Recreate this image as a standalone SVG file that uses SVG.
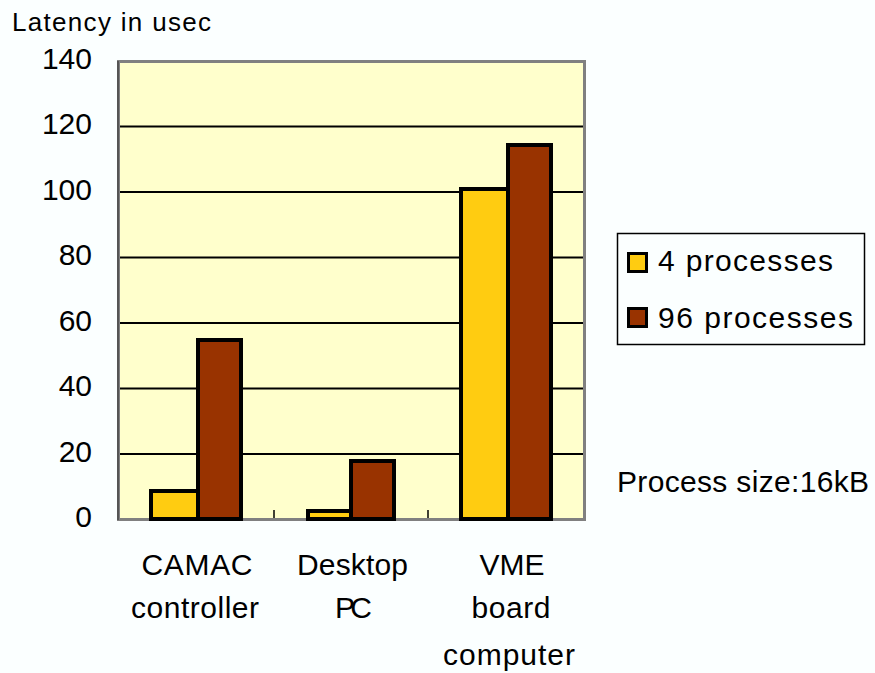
<svg xmlns="http://www.w3.org/2000/svg" width="875" height="673" viewBox="0 0 875 673">
<style>
text{font-family:"Liberation Sans",Arial,sans-serif;fill:#000;font-size:30px}
.yl{text-anchor:end}
.cl{text-anchor:middle}
.grid{stroke:#000;stroke-width:2}
.bar{stroke:#000;stroke-width:4}
.y4{fill:#FFCC11}
.y96{fill:#993300}
</style>
<rect x="0" y="0" width="875" height="673" fill="#FBFFFF"/>
<g id="plot">
<rect x="118.5" y="61.5" width="466" height="458" fill="#FFFFCC" stroke="#808080" stroke-width="3"/>
<g id="gridlines">
<line class="grid" x1="120" y1="126.5" x2="583" y2="126.5"/>
<line class="grid" x1="120" y1="192" x2="583" y2="192"/>
<line class="grid" x1="120" y1="257.5" x2="583" y2="257.5"/>
<line class="grid" x1="120" y1="323" x2="583" y2="323"/>
<line class="grid" x1="120" y1="388.5" x2="583" y2="388.5"/>
<line class="grid" x1="120" y1="454" x2="583" y2="454"/>
</g>
<line x1="118" y1="61" x2="118" y2="520" stroke="#555" stroke-width="2"/>
<g id="ticks" stroke="#000" stroke-width="1.5">
<line x1="274" y1="510" x2="274" y2="518"/>
<line x1="428" y1="510" x2="428" y2="518"/>
</g>
</g>
<g id="camac">
<rect class="bar y4" x="151" y="491" width="47" height="28"/>
<rect class="bar y96" x="198" y="340" width="43" height="179"/>
<text class="cl" x="197" y="575" textLength="111" lengthAdjust="spacing">CAMAC</text>
<text class="cl" x="195" y="618" textLength="128" lengthAdjust="spacing">controller</text>
</g>
<g id="desktop">
<rect class="bar y4" x="308" y="511" width="43" height="8"/>
<rect class="bar y96" x="351" y="461" width="43" height="58"/>
<text class="cl" x="352.5" y="575" textLength="111" lengthAdjust="spacing">Desktop</text>
<text class="cl" x="353.5" y="618" textLength="37" lengthAdjust="spacing">PC</text>
</g>
<g id="vme">
<rect class="bar y4" x="461" y="189" width="47" height="330"/>
<rect class="bar y96" x="508" y="145" width="43" height="374"/>
<text class="cl" x="512" y="575" textLength="65" lengthAdjust="spacing">VME</text>
<text class="cl" x="511" y="618" textLength="79" lengthAdjust="spacing">board</text>
<text class="cl" x="509" y="665" textLength="132" lengthAdjust="spacing">computer</text>
</g>
<g id="yaxis">
<text x="12" y="31" textLength="199" lengthAdjust="spacing" style="font-size:26px">Latency in usec</text>
<text class="yl" x="92" y="69">140</text>
<text class="yl" x="92" y="134">120</text>
<text class="yl" x="92" y="200">100</text>
<text class="yl" x="92" y="265">80</text>
<text class="yl" x="92" y="331">60</text>
<text class="yl" x="92" y="396">40</text>
<text class="yl" x="92" y="462">20</text>
<text class="yl" x="92" y="527">0</text>
</g>
<g id="legend">
<rect x="617.5" y="233.5" width="247" height="111" fill="#FBFFFF" stroke="#000" stroke-width="1.5"/>
<rect x="628.5" y="253.5" width="18" height="18" class="y4" stroke="#000" stroke-width="3"/>
<rect x="628.5" y="308.5" width="18" height="18" class="y96" stroke="#000" stroke-width="3"/>
<text x="658" y="271" textLength="175" lengthAdjust="spacing">4 processes</text>
<text x="658" y="328" textLength="195" lengthAdjust="spacing">96 processes</text>
</g>
<g id="note">
<text x="617" y="492" textLength="252" lengthAdjust="spacing">Process size:16kB</text>
</g>
</svg>
